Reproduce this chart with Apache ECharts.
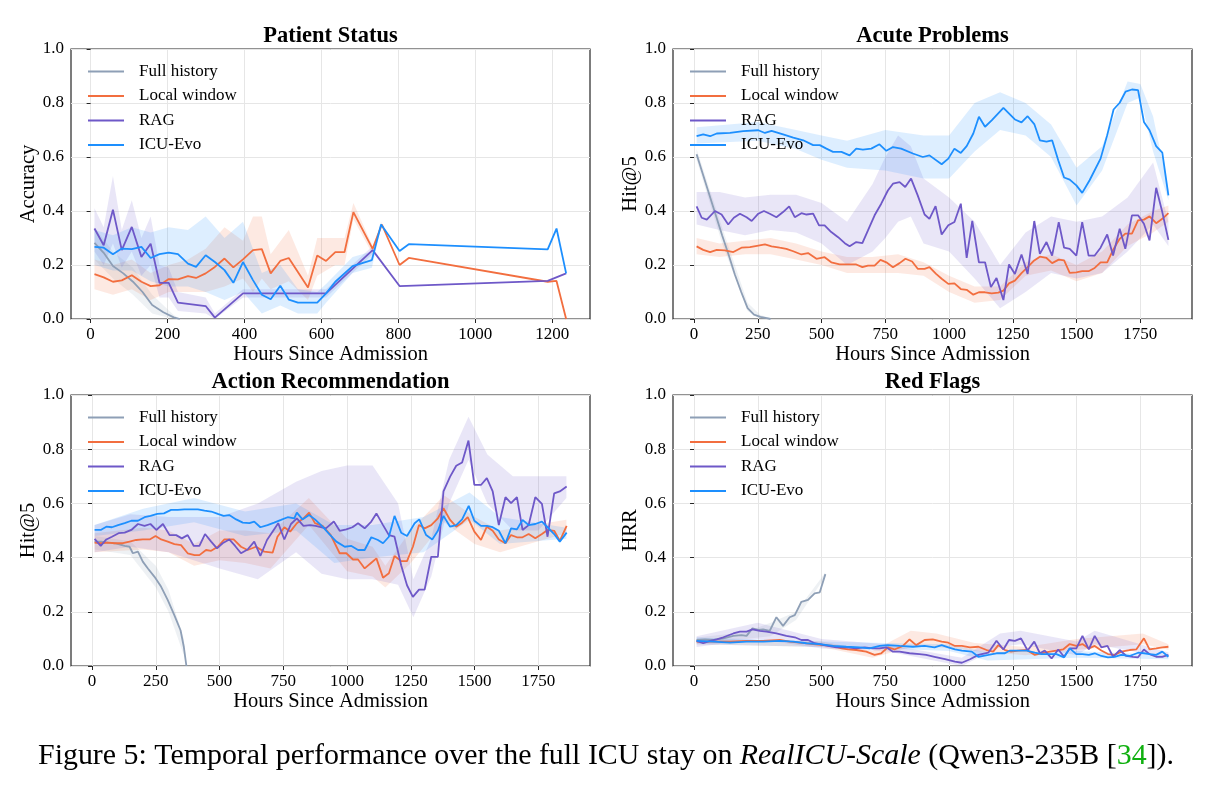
<!DOCTYPE html>
<html>
<head>
<meta charset="utf-8">
<title>Temporal performance</title>
<script src="https://cdn.jsdelivr.net/npm/echarts@6.0.0/dist/echarts.min.js"></script>
<style>
html,body{margin:0;padding:0;background:#fff;}
#chart{width:1212px;height:785px;}
</style>
</head>
<body>
<div id="chart"></div>
<script>
// ---- data (hours since admission, score) ----
var methodNames = ['Full history', 'Local window', 'RAG', 'ICU-Evo'];
var methodColors = ['#8e9fb6', '#f26e3f', '#6e58c8', '#1d8ffe'];

var psTicks = [0, 200, 400, 600, 800, 1000, 1200];
var hrTicks = [0, 250, 500, 750, 1000, 1250, 1500, 1750];
var yTicks = [0, 0.2, 0.4, 0.6, 0.8, 1.0];

// Patient Status
var psFull = [[10,0.282],[34,0.245],[58,0.196],[85,0.169],[110,0.138],[135,0.1],[160,0.052],[189,0.025],[216,0.006],[232,0]];
var psLocal = [[10,0.166],[34,0.154],[58,0.138],[81,0.143],[107,0.162],[132,0.138],[156,0.122],[179,0.125],[203,0.148],[227,0.147],[253,0.159],[274,0.152],[299,0.169],[323,0.193],[348,0.224],[371,0.191],[396,0.221],[422,0.255],[445,0.259],[468,0.169],[493,0.215],[515,0.226],[565,0.117],[589,0.235],[612,0.215],[636,0.248],[660,0.248],[683,0.396],[733,0.26],[757,0.35],[803,0.2],[827,0.226],[1188,0.138],[1211,0.141],[1236,0.0]];
var psRag = [[10,0.335],[34,0.273],[58,0.405],[81,0.255],[107,0.341],[132,0.23],[156,0.279],[179,0.134],[203,0.134],[227,0.061],[299,0.048],[323,0.005],[396,0.095],[612,0.095],[733,0.255],[803,0.122],[1188,0.141],[1236,0.169]];
var psEvo = [[10,0.267],[34,0.264],[58,0.24],[81,0.261],[107,0.259],[132,0.267],[156,0.226],[179,0.24],[203,0.246],[227,0.24],[253,0.205],[274,0.193],[299,0.236],[323,0.211],[348,0.181],[371,0.134],[396,0.211],[422,0.144],[445,0.09],[468,0.073],[493,0.123],[515,0.072],[539,0.061],[589,0.061],[612,0.095],[636,0.138],[681,0.196],[731,0.218],[755,0.35],[803,0.252],[827,0.277],[1188,0.258],[1211,0.335],[1236,0.169]];
var psFullBand = [[10,0.22,0.34],[58,0.15,0.25],[110,0.09,0.19],[160,0.02,0.09],[216,0,0.015],[232,0,0]];
var psLocalBand = [[10,0.11,0.22],[58,0.09,0.2],[107,0.11,0.22],[156,0.07,0.17],[203,0.1,0.2],[253,0.1,0.22],[299,0.1,0.26],[348,0.12,0.34],[396,0.15,0.29],[422,0.1,0.38],[445,0.15,0.38],[468,0.11,0.24],[515,0.14,0.33],[565,0.07,0.16],[589,0.16,0.3],[636,0.2,0.3],[660,0.2,0.3],[683,0.37,0.43],[733,0.24,0.27],[757,0.34,0.36]];
var psRagBand = [[10,0.25,0.41],[34,0.2,0.34],[58,0.28,0.53],[81,0.19,0.33],[107,0.25,0.44],[132,0.16,0.3],[156,0.2,0.38],[179,0.08,0.2],[203,0.08,0.19],[227,0.03,0.1],[299,0.02,0.08],[323,0,0.02],[396,0.08,0.11],[612,0.08,0.11],[733,0.24,0.27]];
var psEvoBand = [[10,0.2,0.33],[58,0.18,0.31],[107,0.18,0.34],[156,0.14,0.32],[203,0.12,0.34],[253,0.12,0.33],[299,0.1,0.38],[348,0.07,0.3],[396,0.1,0.36],[445,0.02,0.17],[493,0.05,0.2],[539,0.02,0.11],[589,0.02,0.1],[612,0.06,0.13],[681,0.17,0.23],[731,0.19,0.25],[755,0.34,0.36]];

// Acute Problems
var apFull = [[10,0.61],[35,0.535],[60,0.46],[85,0.385],[110,0.31],[135,0.24],[160,0.165],[185,0.1],[210,0.04],[235,0.016],[260,0.008],[285,0.003],[300,0]];
var apLocal = [[10,0.269],[36,0.256],[63,0.248],[89,0.256],[121,0.254],[154,0.248],[186,0.264],[219,0.266],[252,0.272],[278,0.276],[304,0.269],[336,0.264],[362,0.26],[389,0.251],[421,0.239],[447,0.244],[480,0.223],[512,0.229],[538,0.21],[571,0.202],[604,0.202],[636,0.202],[660,0.192],[682,0.198],[708,0.198],[731,0.219],[754,0.21],[780,0.192],[806,0.207],[829,0.223],[855,0.213],[877,0.186],[904,0.186],[923,0.192],[949,0.167],[971,0.149],[997,0.13],[1021,0.132],[1046,0.111],[1069,0.108],[1095,0.09],[1117,0.099],[1141,0.099],[1167,0.095],[1193,0.098],[1213,0.105],[1235,0.132],[1258,0.142],[1284,0.17],[1308,0.192],[1334,0.217],[1356,0.231],[1382,0.226],[1404,0.207],[1430,0.22],[1451,0.217],[1473,0.171],[1499,0.173],[1522,0.177],[1547,0.177],[1571,0.189],[1594,0.21],[1620,0.21],[1643,0.256],[1669,0.297],[1691,0.316],[1717,0.316],[1741,0.365],[1764,0.368],[1786,0.38],[1812,0.355],[1836,0.371],[1860,0.392]];
var apRag = [[10,0.417],[30,0.375],[50,0.368],[82,0.4],[108,0.387],[134,0.35],[156,0.375],[180,0.39],[206,0.377],[226,0.363],[252,0.39],[274,0.4],[297,0.39],[323,0.377],[349,0.396],[373,0.417],[395,0.377],[421,0.392],[441,0.387],[467,0.39],[490,0.347],[512,0.347],[538,0.322],[565,0.303],[591,0.281],[610,0.269],[636,0.285],[660,0.281],[682,0.328],[708,0.384],[734,0.427],[760,0.476],[780,0.501],[806,0.507],[828,0.489],[851,0.52],[877,0.458],[904,0.387],[923,0.371],[947,0.418],[971,0.313],[997,0.347],[1021,0.359],[1046,0.427],[1069,0.226],[1091,0.363],[1117,0.21],[1141,0.21],[1164,0.118],[1186,0.152],[1213,0.07],[1235,0.202],[1258,0.167],[1284,0.239],[1308,0.167],[1334,0.363],[1356,0.241],[1382,0.285],[1404,0.235],[1430,0.359],[1451,0.264],[1473,0.26],[1499,0.235],[1522,0.359],[1547,0.235],[1571,0.235],[1594,0.264],[1620,0.313],[1643,0.235],[1669,0.334],[1691,0.26],[1717,0.384],[1741,0.384],[1764,0.353],[1786,0.291],[1812,0.486],[1836,0.396],[1860,0.293]];
var apEvo = [[10,0.677],[36,0.684],[63,0.677],[89,0.687],[141,0.689],[193,0.696],[252,0.699],[278,0.689],[304,0.697],[349,0.684],[389,0.672],[428,0.662],[467,0.644],[493,0.644],[519,0.631],[545,0.619],[578,0.619],[610,0.606],[636,0.631],[662,0.627],[695,0.631],[727,0.647],[754,0.623],[780,0.637],[812,0.631],[858,0.613],[897,0.6],[923,0.606],[971,0.573],[997,0.594],[1021,0.631],[1046,0.615],[1069,0.64],[1095,0.687],[1117,0.749],[1141,0.712],[1167,0.736],[1213,0.782],[1258,0.739],[1284,0.728],[1308,0.751],[1334,0.722],[1356,0.662],[1382,0.657],[1404,0.662],[1428,0.588],[1451,0.524],[1473,0.516],[1499,0.495],[1522,0.467],[1551,0.514],[1594,0.594],[1620,0.681],[1645,0.776],[1669,0.801],[1692,0.842],[1717,0.85],[1741,0.848],[1764,0.73],[1786,0.699],[1812,0.64],[1836,0.616],[1860,0.458]];
var apFullBand = [[10,0.59,0.63],[110,0.28,0.34],[210,0.03,0.06],[260,0,0.015],[300,0,0.003]];
var apLocalBand = [[10,0.24,0.3],[100,0.23,0.28],[200,0.24,0.29],[300,0.24,0.3],[400,0.22,0.28],[500,0.2,0.25],[600,0.17,0.23],[700,0.17,0.23],[800,0.17,0.24],[900,0.16,0.21],[1000,0.1,0.16],[1100,0.06,0.12],[1200,0.07,0.12],[1300,0.16,0.21],[1400,0.18,0.24],[1500,0.14,0.2],[1600,0.17,0.25],[1700,0.27,0.35],[1800,0.32,0.4],[1860,0.36,0.42]];
var apRagBand = [[10,0.35,0.47],[100,0.33,0.47],[200,0.31,0.45],[300,0.33,0.46],[400,0.32,0.46],[500,0.28,0.43],[600,0.2,0.36],[700,0.25,0.5],[750,0.3,0.6],[800,0.36,0.68],[850,0.38,0.64],[900,0.28,0.52],[1000,0.25,0.45],[1100,0.15,0.36],[1200,0.04,0.2],[1300,0.1,0.32],[1400,0.17,0.38],[1500,0.15,0.36],[1600,0.17,0.38],[1700,0.25,0.45],[1800,0.35,0.58],[1860,0.27,0.36]];
var apEvoBand = [[10,0.65,0.71],[250,0.66,0.73],[400,0.63,0.7],[500,0.59,0.68],[600,0.56,0.66],[750,0.55,0.7],[900,0.52,0.68],[1000,0.52,0.68],[1100,0.62,0.8],[1200,0.7,0.84],[1300,0.68,0.8],[1400,0.6,0.72],[1500,0.42,0.56],[1600,0.55,0.64],[1700,0.8,0.88],[1750,0.82,0.87],[1800,0.62,0.75],[1860,0.44,0.48]];

// Action Recommendation
var arFull = [[10,0.459],[36,0.459],[63,0.455],[89,0.453],[128,0.443],[147,0.44],[160,0.416],[180,0.422],[199,0.385],[219,0.36],[245,0.329],[271,0.292],[297,0.243],[323,0.187],[347,0.132],[360,0.07],[370,0]];
var arLocal = [[10,0.455],[36,0.453],[63,0.455],[89,0.453],[121,0.453],[147,0.459],[173,0.465],[199,0.467],[226,0.467],[249,0.48],[271,0.467],[297,0.459],[323,0.45],[349,0.446],[375,0.416],[402,0.409],[421,0.409],[447,0.428],[467,0.425],[493,0.44],[519,0.467],[555,0.467],[584,0.44],[610,0.428],[643,0.44],[675,0.422],[708,0.418],[727,0.477],[754,0.512],[777,0.496],[803,0.527],[829,0.545],[851,0.566],[874,0.527],[904,0.517],[936,0.483],[971,0.416],[997,0.416],[1023,0.393],[1043,0.393],[1069,0.36],[1095,0.381],[1115,0.397],[1141,0.326],[1164,0.342],[1186,0.406],[1212,0.387],[1235,0.387],[1258,0.44],[1282,0.52],[1304,0.508],[1330,0.52],[1356,0.545],[1378,0.582],[1404,0.539],[1428,0.514],[1451,0.529],[1473,0.549],[1499,0.496],[1525,0.465],[1548,0.514],[1571,0.499],[1595,0.467],[1621,0.453],[1643,0.483],[1666,0.475],[1688,0.475],[1712,0.487],[1738,0.471],[1764,0.487],[1786,0.502],[1812,0.499],[1834,0.462],[1861,0.517]];
var arRag = [[10,0.469],[34,0.443],[56,0.467],[78,0.477],[104,0.49],[128,0.492],[154,0.502],[180,0.524],[206,0.517],[229,0.524],[252,0.502],[278,0.524],[304,0.483],[330,0.483],[352,0.471],[375,0.483],[399,0.443],[421,0.443],[443,0.487],[467,0.459],[490,0.434],[512,0.453],[538,0.467],[561,0.443],[584,0.416],[610,0.43],[636,0.459],[660,0.406],[686,0.465],[730,0.527],[754,0.467],[780,0.524],[803,0.545],[829,0.517],[855,0.52],[877,0.517],[917,0.508],[948,0.533],[971,0.499],[997,0.504],[1021,0.512],[1043,0.527],[1069,0.508],[1095,0.533],[1115,0.563],[1141,0.52],[1164,0.483],[1186,0.477],[1212,0.372],[1235,0.298],[1258,0.255],[1282,0.282],[1304,0.282],[1330,0.403],[1356,0.403],[1378,0.644],[1404,0.699],[1428,0.739],[1451,0.751],[1476,0.832],[1499,0.668],[1525,0.668],[1548,0.693],[1571,0.644],[1595,0.52],[1621,0.623],[1643,0.601],[1666,0.623],[1688,0.502],[1712,0.52],[1738,0.623],[1764,0.598],[1786,0.477],[1812,0.637],[1834,0.644],[1861,0.662]];
var arEvo = [[10,0.502],[34,0.502],[56,0.514],[78,0.512],[102,0.52],[128,0.527],[154,0.536],[180,0.536],[206,0.549],[229,0.554],[256,0.561],[282,0.563],[310,0.576],[336,0.576],[362,0.578],[389,0.578],[415,0.578],[441,0.573],[467,0.57],[493,0.561],[516,0.554],[538,0.557],[565,0.541],[591,0.529],[617,0.527],[636,0.533],[660,0.512],[688,0.52],[714,0.529],[741,0.539],[767,0.549],[793,0.545],[803,0.566],[825,0.541],[851,0.557],[874,0.541],[904,0.514],[934,0.483],[958,0.459],[991,0.44],[1017,0.443],[1043,0.428],[1069,0.428],[1095,0.475],[1121,0.465],[1141,0.453],[1164,0.477],[1186,0.554],[1212,0.492],[1235,0.48],[1265,0.527],[1283,0.541],[1310,0.483],[1334,0.467],[1356,0.499],[1378,0.554],[1404,0.514],[1428,0.52],[1451,0.541],[1477,0.591],[1499,0.536],[1525,0.517],[1548,0.517],[1571,0.512],[1595,0.499],[1621,0.453],[1643,0.508],[1666,0.504],[1688,0.539],[1712,0.52],[1738,0.524],[1764,0.533],[1786,0.512],[1812,0.487],[1834,0.459],[1861,0.492]];
var arFullBand = [[10,0.43,0.48],[150,0.41,0.46],[250,0.29,0.37],[300,0.2,0.28],[360,0.04,0.1],[370,0,0]];
var arLocalBand = [[10,0.42,0.49],[200,0.43,0.51],[300,0.42,0.5],[400,0.37,0.45],[500,0.39,0.5],[600,0.38,0.5],[700,0.36,0.49],[850,0.52,0.62],[1000,0.35,0.47],[1100,0.33,0.44],[1150,0.29,0.37],[1250,0.38,0.5],[1380,0.53,0.63],[1500,0.45,0.55],[1600,0.42,0.5],[1860,0.49,0.54]];
var arRagBand = [[10,0.42,0.52],[150,0.44,0.56],[300,0.42,0.55],[500,0.36,0.55],[650,0.32,0.6],[800,0.42,0.68],[900,0.34,0.72],[1000,0.32,0.74],[1100,0.32,0.74],[1200,0.3,0.6],[1260,0.18,0.32],[1330,0.33,0.47],[1400,0.6,0.76],[1476,0.76,0.92],[1550,0.6,0.78],[1650,0.5,0.7],[1750,0.5,0.7],[1860,0.62,0.7]];
var arEvoBand = [[10,0.48,0.52],[200,0.5,0.58],[400,0.53,0.62],[600,0.48,0.57],[800,0.5,0.6],[950,0.38,0.52],[1100,0.4,0.52],[1300,0.42,0.55],[1480,0.54,0.64],[1600,0.45,0.55],[1860,0.47,0.51]];

// Red Flags
var rfFull = [[10,0.096],[43,0.098],[76,0.096],[115,0.102],[154,0.111],[186,0.114],[206,0.111],[229,0.139],[252,0.133],[271,0.135],[297,0.13],[323,0.18],[349,0.148],[375,0.18],[395,0.188],[421,0.237],[447,0.244],[473,0.268],[493,0.272],[515,0.339]];
var rfLocal = [[10,0.09],[76,0.09],[141,0.09],[206,0.093],[271,0.093],[336,0.096],[375,0.09],[415,0.086],[467,0.081],[506,0.077],[545,0.074],[578,0.065],[604,0.061],[636,0.059],[675,0.053],[708,0.041],[734,0.047],[760,0.069],[786,0.061],[819,0.074],[845,0.098],[871,0.077],[904,0.096],[936,0.098],[971,0.09],[997,0.086],[1023,0.074],[1050,0.074],[1082,0.069],[1115,0.071],[1147,0.059],[1173,0.053],[1193,0.077],[1219,0.059],[1243,0.053],[1271,0.057],[1304,0.059],[1336,0.041],[1362,0.047],[1395,0.053],[1421,0.057],[1447,0.061],[1473,0.081],[1499,0.074],[1523,0.081],[1548,0.065],[1571,0.074],[1597,0.057],[1623,0.044],[1649,0.041],[1675,0.053],[1708,0.059],[1734,0.061],[1764,0.102],[1786,0.061],[1812,0.065],[1836,0.069],[1860,0.071]];
var rfRag = [[10,0.093],[36,0.084],[63,0.093],[89,0.098],[115,0.106],[154,0.12],[180,0.127],[206,0.127],[229,0.135],[258,0.13],[284,0.127],[323,0.12],[362,0.111],[395,0.106],[421,0.096],[447,0.096],[473,0.084],[493,0.081],[525,0.074],[558,0.069],[597,0.069],[636,0.065],[669,0.069],[701,0.065],[728,0.065],[754,0.069],[780,0.053],[806,0.053],[845,0.047],[884,0.044],[910,0.041],[943,0.034],[984,0.025],[1023,0.016],[1050,0.012],[1082,0.025],[1115,0.041],[1154,0.049],[1186,0.093],[1213,0.061],[1235,0.096],[1258,0.093],[1282,0.102],[1308,0.057],[1334,0.09],[1356,0.047],[1375,0.057],[1402,0.028],[1428,0.061],[1451,0.034],[1473,0.065],[1499,0.065],[1523,0.111],[1548,0.061],[1571,0.111],[1597,0.069],[1621,0.074],[1643,0.034],[1669,0.059],[1695,0.037],[1721,0.034],[1741,0.032],[1764,0.061],[1786,0.044],[1812,0.034],[1836,0.034],[1860,0.041]];
var rfEvo = [[10,0.093],[76,0.09],[141,0.086],[206,0.09],[271,0.09],[336,0.093],[389,0.09],[441,0.084],[493,0.081],[545,0.074],[597,0.071],[649,0.069],[688,0.065],[728,0.074],[760,0.077],[806,0.074],[858,0.071],[904,0.074],[943,0.069],[971,0.077],[997,0.069],[1023,0.061],[1050,0.057],[1089,0.053],[1115,0.034],[1154,0.041],[1186,0.047],[1219,0.047],[1239,0.057],[1271,0.057],[1304,0.057],[1336,0.049],[1362,0.044],[1395,0.044],[1421,0.044],[1451,0.032],[1473,0.065],[1499,0.044],[1523,0.044],[1548,0.041],[1571,0.047],[1597,0.037],[1623,0.032],[1649,0.034],[1675,0.041],[1708,0.037],[1741,0.049],[1764,0.047],[1786,0.044],[1812,0.041],[1836,0.053],[1860,0.034]];
var rfFullBand = [[10,0.085,0.105],[200,0.1,0.125],[300,0.11,0.16],[400,0.17,0.2],[515,0.33,0.345]];
var rfLocalBand = [[10,0.08,0.1],[500,0.07,0.09],[700,0.03,0.055],[850,0.07,0.13],[950,0.07,0.12],[1100,0.055,0.085],[1300,0.04,0.07],[1500,0.06,0.1],[1760,0.08,0.12],[1860,0.06,0.08]];
var rfRagBand = [[10,0.07,0.11],[250,0.1,0.16],[500,0.065,0.1],[750,0.055,0.08],[1050,0,0.03],[1200,0.07,0.12],[1280,0.08,0.13],[1500,0.04,0.09],[1571,0.08,0.13],[1860,0.03,0.05]];
var rfEvoBand = [[10,0.08,0.105],[500,0.07,0.09],[750,0.065,0.085],[1000,0.055,0.08],[1150,0.02,0.05],[1500,0.03,0.055],[1860,0.025,0.04]];

// ---- layout ----
var FONT = '"Liberation Serif", "Times New Roman", serif';
var panels = [
  {title: 'Patient Status', yName: 'Accuracy', left: 71, top: 49, height: 270, xMin: -51, xMax: 1298, xTicks: psTicks,
   lines: [psFull, psLocal, psRag, psEvo], bands: [psFullBand, psLocalBand, psRagBand, psEvoBand]},
  {title: 'Acute Problems', yName: 'Hit@5', left: 673, top: 49, height: 270, xMin: -82.5, xMax: 1952.5, xTicks: hrTicks,
   lines: [apFull, apLocal, apRag, apEvo], bands: [apFullBand, apLocalBand, apRagBand, apEvoBand]},
  {title: 'Action Recommendation', yName: 'Hit@5', left: 71, top: 395, height: 271, xMin: -82.5, xMax: 1952.5, xTicks: hrTicks,
   lines: [arFull, arLocal, arRag, arEvo], bands: [arFullBand, arLocalBand, arRagBand, arEvoBand]},
  {title: 'Red Flags', yName: 'HRR', left: 673, top: 395, height: 271, xMin: -82.5, xMax: 1952.5, xTicks: hrTicks,
   lines: [rfFull, rfLocal, rfRag, rfEvo], bands: [rfFullBand, rfLocalBand, rfRagBand, rfEvoBand]}
];
var PW = 519;

var grids = [], xAxes = [], yAxes = [], series = [], legends = [], graphics = [];

function bandSeries(band, color, idx) {
  return {
    type: 'custom', xAxisIndex: idx, yAxisIndex: idx, silent: true, z: 1,
    data: band, encode: {x: 0, y: [1, 2]},
    renderItem: function (params, api) {
      if (params.dataIndex !== 0) return null;
      var up = band.map(function (d) { return api.coord([d[0], d[2]]); });
      var lo = band.slice().reverse().map(function (d) { return api.coord([d[0], d[1]]); });
      return {type: 'polygon', shape: {points: up.concat(lo)}, style: {fill: color, opacity: 0.15}};
    }
  };
}

panels.forEach(function (p, i) {
  grids.push({left: p.left, top: p.top, width: PW, height: p.height, show: true,
    borderColor: '#262626', borderWidth: 1.2, backgroundColor: 'transparent', containLabel: false, outerBoundsMode: 'none'});
  xAxes.push({
    gridIndex: i, type: 'value', min: p.xMin, max: p.xMax,
    name: 'Hours Since Admission', nameLocation: 'middle', nameGap: 22,
    nameTextStyle: {fontFamily: FONT, fontSize: 20.5, color: '#000'},
    axisLine: {show: false},
    axisTick: {show: true, customValues: p.xTicks, length: 4, lineStyle: {color: '#262626'}},
    axisLabel: {customValues: p.xTicks, margin: 7, fontFamily: FONT, fontSize: 17, color: '#000',
      formatter: function (v) { return String(v); }},
    splitLine: {show: true, lineStyle: {color: '#e6e6e6', width: 1}}
  });
  yAxes.push({
    gridIndex: i, type: 'value', min: 0, max: 1, interval: 0.2,
    name: p.yName, nameLocation: 'middle', nameGap: 24,
    nameTextStyle: {fontFamily: FONT, fontSize: 20.5, color: '#000'},
    axisLine: {show: false},
    axisTick: {show: true, length: 4, lineStyle: {color: '#262626'}},
    axisLabel: {margin: 7, fontFamily: FONT, fontSize: 17, color: '#000',
      formatter: function (v) { return v.toFixed(1); }},
    splitLine: {show: true, lineStyle: {color: '#e6e6e6', width: 1}}
  });
  p.bands.forEach(function (b, k) { series.push(bandSeries(b, methodColors[k], i)); });
  p.lines.forEach(function (d, k) {
    series.push({
      type: 'line', name: methodNames[k], xAxisIndex: i, yAxisIndex: i, data: d,
      symbol: 'none', showSymbol: false, z: 3 + k,
      lineStyle: {width: 1.8, color: methodColors[k]}, itemStyle: {color: methodColors[k]}
    });
  });
  legends.push({
    data: methodNames.map(function (n) { return {name: n, icon: 'rect'}; }),
    orient: 'vertical', left: p.left + 12, top: p.top + 9,
    itemWidth: 36, itemHeight: 2, itemGap: 7.5, selectedMode: false,
    textStyle: {fontFamily: FONT, fontSize: 17, color: '#000', lineHeight: 17, padding: [0, 0, 0, 10]}
  });
  graphics.push({
    type: 'text', x: p.left + PW / 2, y: p.top - 13,
    style: {text: p.title, font: 'bold 22.5px ' + FONT, fill: '#000',
      align: 'center', verticalAlign: 'middle', textAlign: 'center', textVerticalAlign: 'middle'}
  });
});

graphics.push({
  type: 'text', x: 606, y: 756,
  style: {
    text: 'Figure 5: Temporal performance over the full ICU stay on {i|RealICU-Scale} (Qwen3-235B [{g|34}]).',
    font: '29.9px ' + FONT, fill: '#000',
    align: 'center', verticalAlign: 'middle', textAlign: 'center', textVerticalAlign: 'middle',
    rich: {
      i: {fontStyle: 'italic', fontSize: 29.9, fontFamily: FONT, fill: '#000'},
      g: {fontSize: 29.9, fontFamily: FONT, fill: '#10b010'}
    }
  }
});

var chart = echarts.init(document.getElementById('chart'), null, {renderer: 'canvas'});
chart.setOption({
  animation: false,
  backgroundColor: '#fff',
  grid: grids, xAxis: xAxes, yAxis: yAxes,
  legend: legends, series: series, graphic: graphics
});
</script>
</body>
</html>
